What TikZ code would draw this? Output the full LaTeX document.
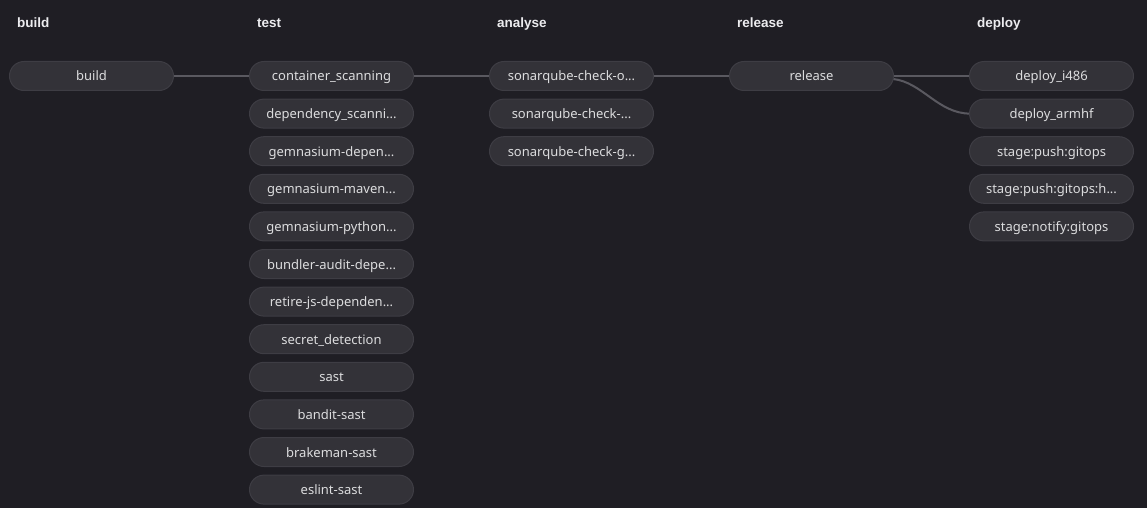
\documentclass[tikz,border=0pt]{standalone}
\usepackage{fontspec}
\setmainfont{Noto Sans}
\newfontfamily\headfont{Liberation Sans}
\definecolor{bg}{HTML}{1F1E24}
\definecolor{nodefill}{HTML}{333238}
\definecolor{nodeline}{HTML}{3E3D44}
\definecolor{linkcol}{HTML}{5A5960}
\definecolor{txt}{HTML}{DCDCDE}
\definecolor{head}{HTML}{ECECEF}
\newcommand\trunc{...}
\begin{document}
\begin{tikzpicture}[x=1pt,y=-1pt,
  job/.style={draw=nodeline, line width=1pt, fill=nodefill, rounded corners=14.5pt,
    minimum width=164pt, minimum height=29pt, inner sep=0pt, text=txt,
    text height=12pt, text depth=2pt,
    font=\fontsize{13}{15}\selectfont},
  stagehead/.style={anchor=base west, text=head, inner sep=0pt, font=\headfont\bfseries\fontsize{13.5}{15}\selectfont},
  link/.style={draw=linkcol, line width=2pt}]
\fill[bg] (0,0) rectangle (1147,508);
\useasboundingbox (0,0) rectangle (1147,508);
% headers
\node[stagehead] (hbuild) at (17,27.5) {build};
\node[stagehead] (htest) at (257,27.5) {test};
\node[stagehead] (hanalyse) at (497,27.5) {analyse};
\node[stagehead] (hrelease) at (737,27.5) {release};
\node[stagehead] (hdeploy) at (977,27.5) {deploy};
% links first (behind nodes)
\coordinate (b1) at (173,76);
\coordinate (t1w) at (250,76);
\coordinate (t1e) at (413,76);
\coordinate (a1w) at (490,76);
\coordinate (a1e) at (653,76);
\coordinate (r1w) at (730,76);
\coordinate (r1e) at (893,76);
\coordinate (r1c) at (893,79);
\coordinate (d1w) at (970,76);
\coordinate (d2w) at (970,113.6);
\draw[link] (b1) -- (t1w);
\draw[link] (t1e) -- (a1w);
\draw[link] (a1e) -- (r1w);
\draw[link] (r1e) -- (d1w);
\draw[link] (r1c) .. controls (922,82) and (938,113.6) .. (d2w);
% build
\node[job] (build) at (91.5,76) {build};
% test
\foreach \n [count=\i from 0] in {{container\_scanning}, {dependency\_scanni\trunc}, {gemnasium-depen\trunc}, {gemnasium-maven\trunc}, {gemnasium-python\trunc}, {bundler-audit-depe\trunc}, {retire-js-dependen\trunc}, {secret\_detection}, {sast}, {bandit-sast}, {brakeman-sast}, {eslint-sast}}
  \node[job] (test\i) at (331.5,76+37.6*\i) {\n};
% analyse
\foreach \n [count=\i from 0] in {{sonarqube-check-o\trunc}, {sonarqube-check-\trunc}, {sonarqube-check-g\trunc}}
  \node[job] (analyse\i) at (571.5,76+37.6*\i) {\n};
% release
\node[job] (release) at (811.5,76) {release};
% deploy
\foreach \n [count=\i from 0] in {{deploy\_i486}, {deploy\_armhf}, {stage:push:gitops}, {stage:push:gitops:h\trunc}, {stage:notify:gitops}}
  \node[job] (deploy\i) at (1051.5,76+37.6*\i) {\n};
\end{tikzpicture}
\end{document}
